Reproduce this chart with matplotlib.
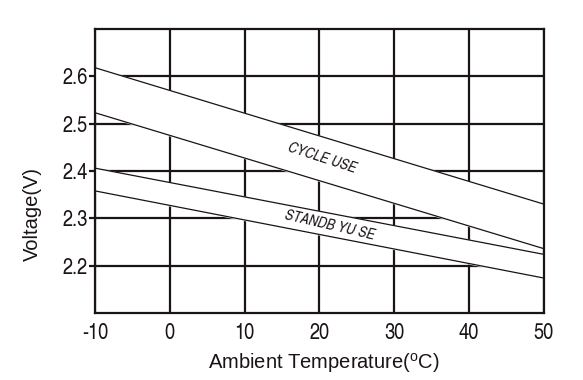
import numpy as np
import matplotlib
matplotlib.use('Agg')
from matplotlib import pyplot as plt

# temperature end points and voltage limits of the two bands
temp = [-10, 50]
cycle_hi = [2.618, 2.330]
cycle_lo = [2.523, 2.236]
standby_hi = [2.406, 2.224]
standby_lo = [2.358, 2.174]

xticks = [-10, 0, 10, 20, 30, 40, 50]
yticks = [2.2, 2.3, 2.4, 2.5, 2.6]

plt.rcParams['font.family'] = ['Liberation Sans']
plt.rcParams['axes.unicode_minus'] = False
plt.rcParams['mathtext.fontset'] = 'custom'
plt.rcParams['mathtext.rm'] = 'Liberation Sans'

fig = plt.figure(figsize=(5.83, 3.80), dpi=100)
ax = fig.add_axes([0.163, 0.176, 0.770, 0.748])

ax.set_xlim(-10, 50)
ax.set_ylim(2.1, 2.7)
ax.set_xticks(xticks)
ax.set_yticks(yticks)
ax.set_yticklabels(['%.1f' % v for v in yticks])
ax.grid(True, color='#1a1414', lw=1.6, zorder=0)
ax.set_axisbelow(True)

for s in ax.spines.values():
    s.set_linewidth(1.6)
    s.set_color('#1a1414')
    s.set_zorder(5)

narrow = ['TeX Gyre Heros Cn', 'Liberation Sans']
ax.tick_params(axis='y', length=4, width=1.6, pad=1, labelsize=16, color='#1a1414')
ax.tick_params(axis='x', length=0, pad=7, labelsize=16)
for lab in ax.get_xticklabels() + ax.get_yticklabels():
    lab.set_family(narrow)
    lab.set_color('#1a1414')

# white bands hide the grid
ax.fill_between(temp, cycle_lo, cycle_hi, color='white', zorder=2)
ax.fill_between(temp, standby_lo, standby_hi, color='white', zorder=2)
for ys in (cycle_hi, cycle_lo, standby_hi, standby_lo):
    ax.plot(temp, ys, color='#1a1414', lw=0.9, zorder=3)

ax.text(20.3, 2.428, 'CYCLE USE', rotation=-18, fontsize=11, style='italic',
        family=narrow, ha='center', va='center', zorder=4, color='#1a1414')
ax.text(21.3, 2.285, 'STANDB YU SE', rotation=-13, fontsize=11, style='italic',
        family=narrow, ha='center', va='center', zorder=4, color='#1a1414')

ax.set_xlabel('Ambient Temperature($^{\\mathrm{o}}$C)', fontsize=14.5, color='#1a1414')
ax.set_ylabel('Voltage(V)', fontsize=14.5, color='#1a1414')
ax.xaxis.set_label_coords(0.51, -0.134)
ax.yaxis.set_label_coords(-0.118, 0.349)

plt.savefig('out.png', dpi=100)
